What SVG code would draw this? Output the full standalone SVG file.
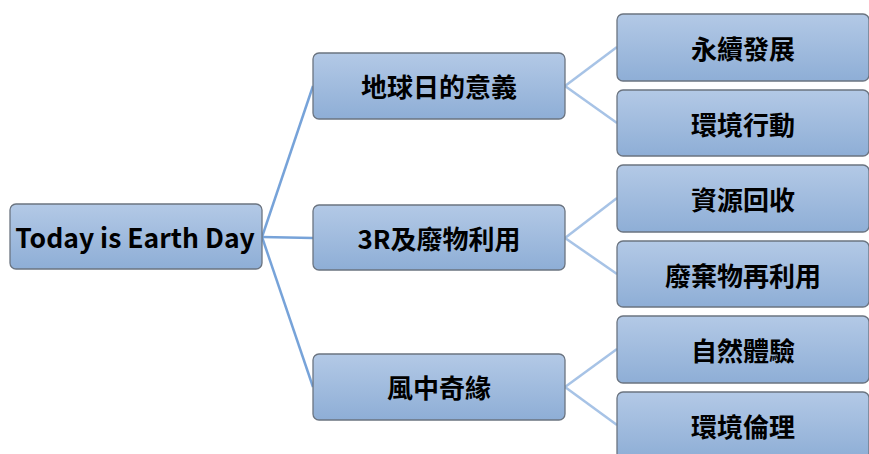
<svg xmlns="http://www.w3.org/2000/svg" width="869" height="454" viewBox="0 0 869 454">
<defs>
<linearGradient id="g" x1="0" y1="0" x2="0" y2="1">
<stop offset="0" stop-color="#b3c9e6"/>
<stop offset="1" stop-color="#8eaed6"/>
</linearGradient>
<style>
.box{fill:url(#g);stroke:#6b7480;stroke-width:1.3}
.t{font-family:"Noto Sans CJK TC","Noto Sans",sans-serif;font-weight:bold;font-size:26px;fill:#000;text-anchor:middle;dominant-baseline:central}
.c1{stroke:#77a3d9;stroke-width:2.5;fill:none}
.c2{stroke:#a7c3e6;stroke-width:2.5;fill:none}
</style>
</defs>
<rect width="869" height="454" fill="#fff"/>
<g id="connectors">
<line class="c1" x1="262" y1="237" x2="313" y2="86"/>
<line class="c1" x1="262" y1="237" x2="313" y2="238"/>
<line class="c1" x1="262" y1="237" x2="313" y2="387"/>
<line class="c2" x1="565" y1="86" x2="617" y2="47"/>
<line class="c2" x1="565" y1="86" x2="617" y2="123"/>
<line class="c2" x1="565" y1="238" x2="617" y2="198"/>
<line class="c2" x1="565" y1="238" x2="617" y2="274"/>
<line class="c2" x1="565" y1="387" x2="617" y2="349"/>
<line class="c2" x1="565" y1="387" x2="617" y2="425"/>
</g>
<g id="root"><rect class="box" x="10" y="204" width="252" height="65" rx="6"/><text class="t" x="135" y="236" style="font-size:26.5px">Today is Earth Day</text></g>
<g id="n1"><rect class="box" x="313" y="53" width="252" height="66" rx="6"/><text class="t" x="439" y="85">地球日的意義</text></g>
<g id="n2"><rect class="box" x="313" y="205" width="252" height="65" rx="6"/><text class="t" x="439" y="237">3R及廢物利用</text></g>
<g id="n3"><rect class="box" x="313" y="354" width="252" height="66" rx="6"/><text class="t" x="439" y="386">風中奇緣</text></g>
<g id="n11"><rect class="box" x="617" y="14" width="252" height="67" rx="6"/><text class="t" x="743" y="47">永續發展</text></g>
<g id="n12"><rect class="box" x="617" y="90" width="252" height="66" rx="6"/><text class="t" x="743" y="123">環境行動</text></g>
<g id="n21"><rect class="box" x="617" y="165" width="252" height="67" rx="6"/><text class="t" x="743" y="198">資源回收</text></g>
<g id="n22"><rect class="box" x="617" y="241" width="252" height="66" rx="6"/><text class="t" x="743" y="274">廢棄物再利用</text></g>
<g id="n31"><rect class="box" x="617" y="316" width="252" height="67" rx="6"/><text class="t" x="743" y="349">自然體驗</text></g>
<g id="n32"><rect class="box" x="617" y="392" width="252" height="67" rx="6"/><text class="t" x="743" y="425">環境倫理</text></g>
</svg>
